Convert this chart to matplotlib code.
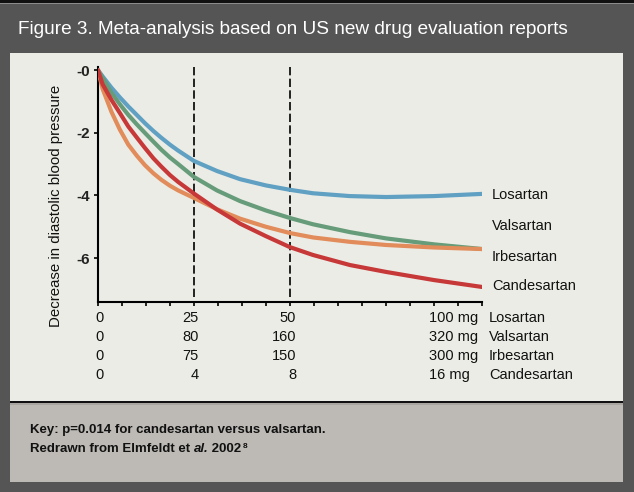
import matplotlib
matplotlib.use('Agg')
import numpy as np
import matplotlib.pyplot as plt
from matplotlib.patches import Rectangle
from matplotlib.transforms import blended_transform_factory

W, H = 634, 492   # picture size in pixels

# curves, x = % of maximum dose
x_pts = [0, 1.2, 3.5, 5.7, 7.9, 10.1, 12.2, 14.4, 16.5, 18.75, 20.9, 25, 31, 37, 43.75,
         50, 56, 65.6, 75, 87.5, 100]
losartan = [0, -0.2, -0.56, -0.87, -1.16, -1.43, -1.69, -1.94, -2.16, -2.38, -2.57, -2.9,
            -3.22, -3.48, -3.68, -3.82, -3.93, -4.02, -4.05, -4.02, -3.95]
valsartan = [0, -0.25, -0.72, -1.09, -1.43, -1.73, -2.0, -2.28, -2.54, -2.79, -3.0, -3.41,
             -3.84, -4.18, -4.48, -4.72, -4.92, -5.17, -5.37, -5.56, -5.71]
irbesartan = [0, -0.6, -1.33, -1.9, -2.38, -2.73, -3.03, -3.29, -3.5, -3.69, -3.84, -4.08,
              -4.44, -4.74, -5.0, -5.2, -5.34, -5.48, -5.58, -5.66, -5.71]
candesartan = [0, -0.45, -0.95, -1.37, -1.8, -2.15, -2.48, -2.81, -3.08, -3.35, -3.57, -3.94,
               -4.45, -4.9, -5.3, -5.65, -5.9, -6.22, -6.44, -6.7, -6.92]

names = ['Losartan', 'Valsartan', 'Irbesartan', 'Candesartan']
colors = ['#5fa0c3', '#669c79', '#e18c5a', '#c73838']
label_y = [-3.98, -4.99, -5.96, -6.89]

# dose table under the x axis
dose_pos = [0, 25, 50, 100]
los_dose = ['0', '25', '50', '100 mg']
val_dose = ['0', '80', '160', '320 mg']
irb_dose = ['0', '75', '150', '300 mg']
can_dose = ['0', '4', '8', '16 mg']
dose_rows = [los_dose, val_dose, irb_dose, can_dose]

yticks = [0, -2, -4, -6]
ytick_labels = ['-0', '-2', '-4', '-6']
cut_lines = [25, 50]

plain = ['Liberation Sans', 'DejaVu Sans']


def fx(px):
    return px / W


def fy(py):
    return 1 - py / H


fig = plt.figure(figsize=(W / 100, H / 100), dpi=100)
fig.patch.set_facecolor('#555555')

# frame pieces: top black strip, light chart panel, key panel
def box(x0, y0, x1, y1, c):
    fig.add_artist(Rectangle((fx(x0), fy(y1)), fx(x1 - x0), (y1 - y0) / H,
                             transform=fig.transFigure, facecolor=c,
                             edgecolor='none', zorder=-5))

box(0, 0, W, 3, '#111111')
box(0, 3, W, 4, '#8c8c8c')
box(10, 53, 623, 401, '#ecece6')
box(10, 401, 623, 403, '#111111')
box(10, 403, 623, 405, '#a9a6a1')
box(10, 405, 623, 482, '#bdbab5')

fig.text(fx(18), fy(29), 'Figure 3. Meta-analysis based on US new drug evaluation reports',
         color='white', fontsize=13.7, family=plain, va='center', ha='left')

ax = fig.add_axes([fx(98), fy(302), fx(384), 235 / H])
ax.set_facecolor('none')

for y, c in zip([losartan, valsartan, irbesartan, candesartan], colors):
    ax.plot(x_pts, y, color=c, lw=3.0, solid_capstyle='round',
            solid_joinstyle='round', zorder=3)

for xv in cut_lines:
    ax.axvline(xv, ymin=0.02, ymax=1.0, color='black', lw=1.2,
               linestyle=(0, (5, 2)), zorder=2)

ax.set_xlim(0, 100)
ax.set_ylim(-7.4, 0.1)
ax.spines['top'].set_visible(False)
ax.spines['right'].set_visible(False)
ax.spines['left'].set_linewidth(1.5)
ax.spines['bottom'].set_linewidth(1.5)
ax.set_xticks(np.arange(0, 100.1, 6.25))
ax.set_xticklabels([])
ax.set_yticks(yticks)
ax.set_yticklabels(ytick_labels, fontsize=11, fontweight='bold', family=plain,
                   color='#222222')
ax.tick_params(axis='both', direction='out', length=3, width=1.2, pad=3)

for name, yv in zip(names, label_y):
    ax.text(102.6, yv, name, fontsize=10.5, family=plain, va='center', ha='left',
            color='#111111', clip_on=False)

fig.text(fx(56), fy(206), 'Decrease in diastolic blood pressure', rotation=90,
         fontsize=10.8, family=plain, va='center', ha='center', color='#111111')

# dose table, x placed through the axis scale
tr = blended_transform_factory(ax.transData, fig.transFigure)
row_y = [318, 337, 356, 375]
for row, name, ry in zip(dose_rows, names, row_y):
    for pos, txt in zip(dose_pos, row):
        if pos == 0:
            ax.text(0.5, fy(ry), txt, transform=tr, ha='center', va='center',
                    fontsize=10.5, family=plain, color='#111111')
        elif pos == 100:
            ax.text(86.2, fy(ry), txt, transform=tr, ha='left', va='center',
                    fontsize=10.5, family=plain, color='#111111')
        else:
            ax.text(pos + 1.2 + (pos == 50) * 0.4, fy(ry), txt, transform=tr,
                    ha='right', va='center', fontsize=10.5, family=plain,
                    color='#111111')
    ax.text(101.8, fy(ry), name, transform=tr, ha='left', va='center',
            fontsize=10.5, family=plain, color='#111111')

# key text
fig.text(fx(30), fy(430), 'Key: p=0.014 for candesartan versus valsartan.',
         fontsize=9.5, family=plain, fontweight='bold', va='center', ha='left',
         color='#111111')
t1 = fig.text(fx(30), fy(449), 'Redrawn from Elmfeldt et ', fontsize=9.5,
              family=plain, fontweight='bold', va='center', ha='left',
              color='#111111')
t2 = fig.text(0, 0, 'al.', fontsize=9.5, family=plain, fontweight='bold',
              style='italic', va='bottom', ha='left', color='#111111')
t3 = fig.text(0, 0, ' 2002', fontsize=9.5, family=plain, fontweight='bold',
              va='bottom', ha='left', color='#111111')
t4 = fig.text(0, 0, '8', fontsize=6, family=plain, fontweight='bold',
              va='bottom', ha='left', color='#111111')

fig.canvas.draw()
r = fig.canvas.get_renderer()
inv = fig.transFigure.inverted()
b1 = t1.get_window_extent(r)
t2.set_position(inv.transform((b1.x1, b1.y0)))
b2 = t2.get_window_extent(r)
t3.set_position(inv.transform((b2.x1, b1.y0)))
b3 = t3.get_window_extent(r)
t4.set_position(inv.transform((b3.x1 + 1, b1.y0 + b1.height * 0.45)))

fig.savefig('out.png', dpi=100, facecolor=fig.get_facecolor())
